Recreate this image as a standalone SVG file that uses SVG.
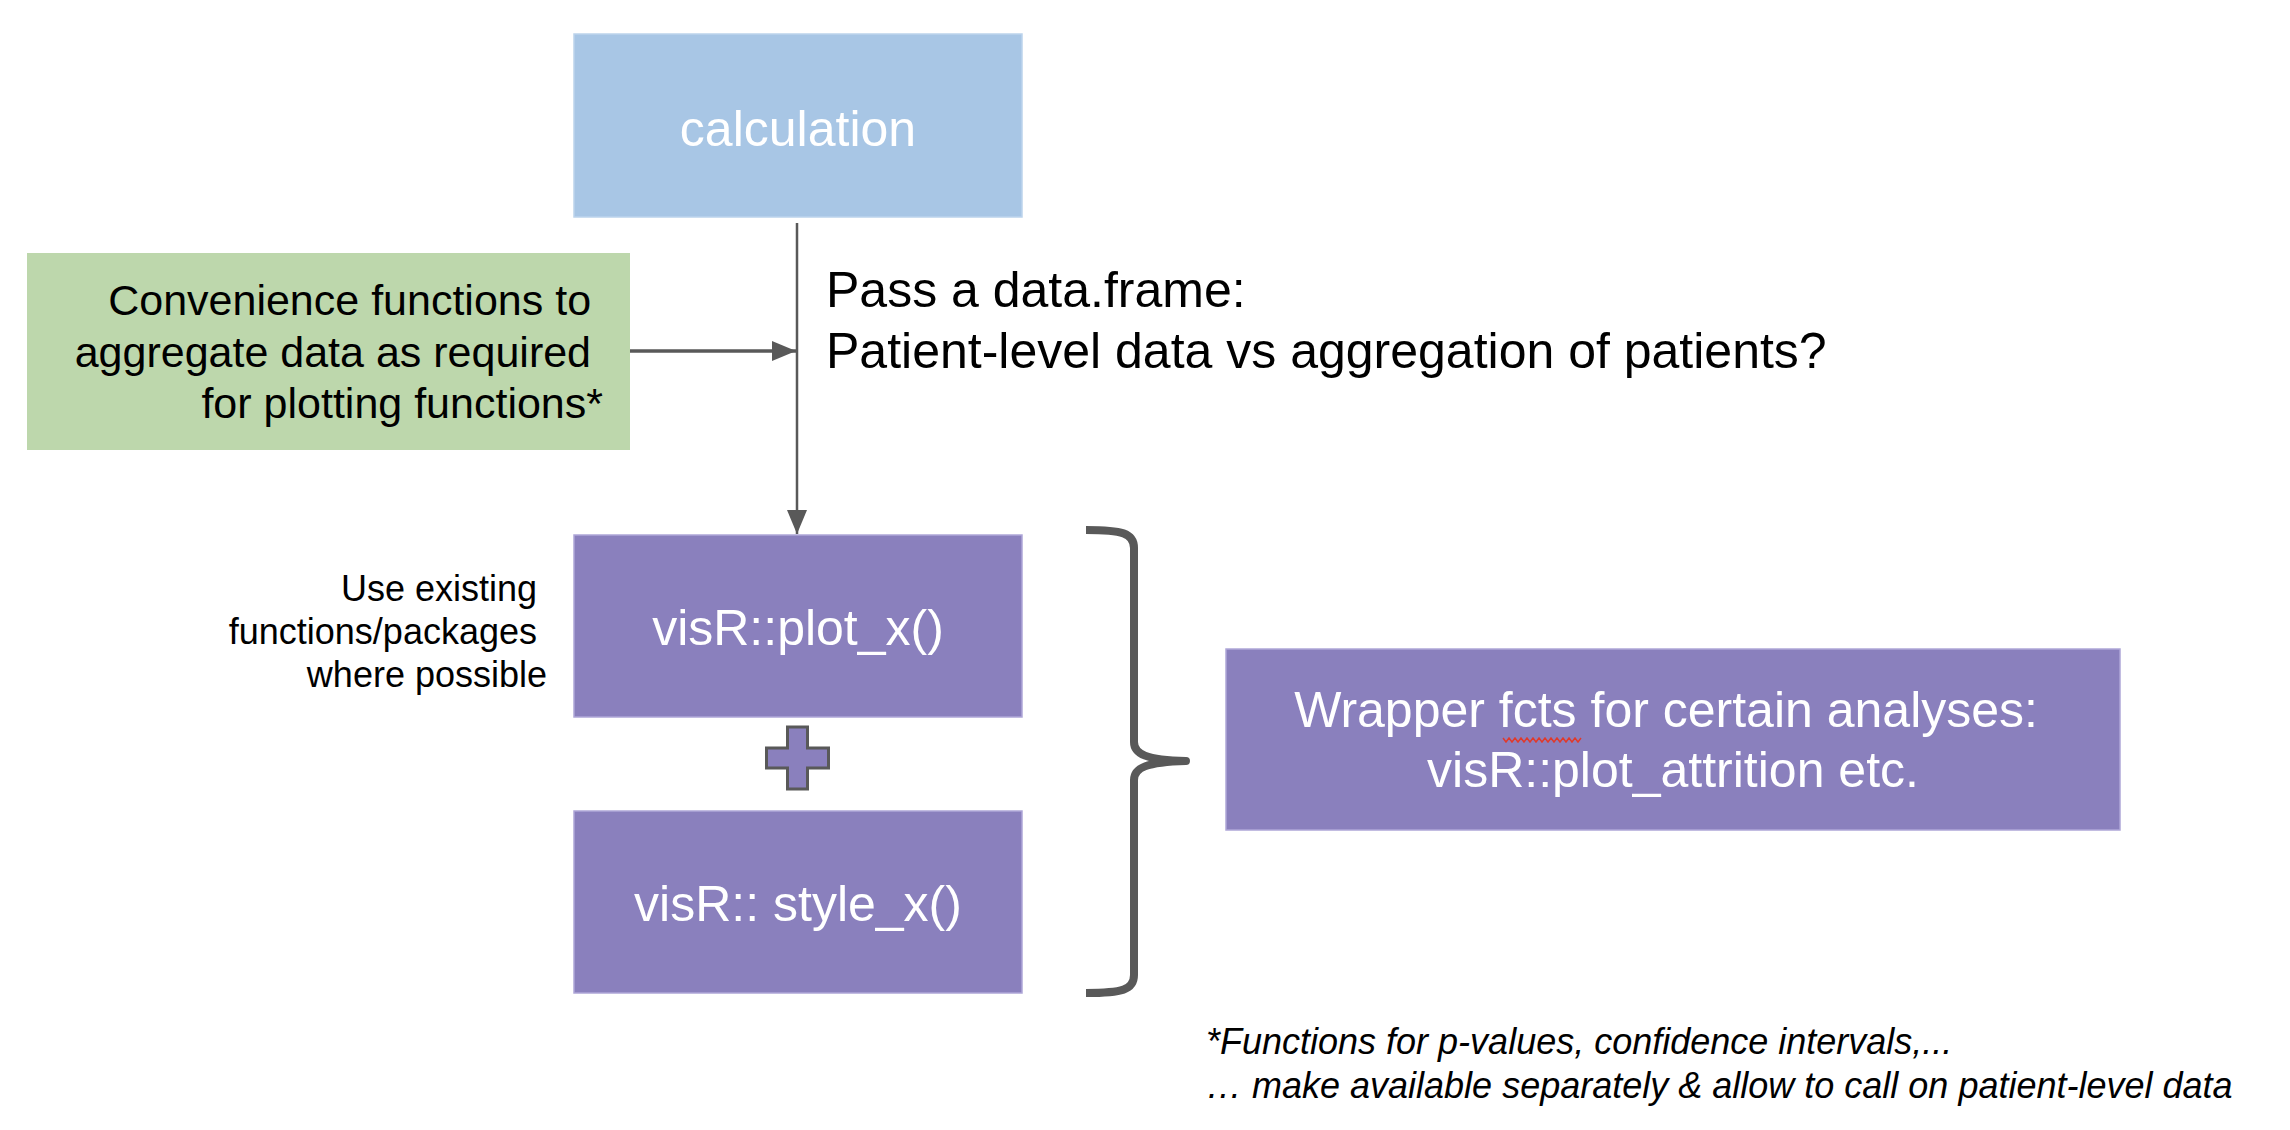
<svg xmlns="http://www.w3.org/2000/svg" width="2290" height="1130" viewBox="0 0 2290 1130">
<style>
text{font-family:"Liberation Sans",Arial,sans-serif}
.box-blue{fill:#a8c6e5;stroke:#bcd3ec;stroke-width:1.5}
.box-green{fill:#bdd7ac}
.box-purple{fill:#8a80bd;stroke:#aea6d8;stroke-width:1.5}
.lbl-w{fill:#ffffff;font-size:50px;text-anchor:middle}
.lbl-k{fill:#000000}
.conn{stroke:#595959;fill:none}
</style>
<defs>
<marker id="ah" markerWidth="24" markerHeight="20" refX="24" refY="10" orient="auto" markerUnits="userSpaceOnUse">
<path d="M0,0 L24,10 L0,20 Z" fill="#595959"/>
</marker>
</defs>
<rect width="2290" height="1130" fill="#ffffff"/>

<g id="calculation">
<rect class="box-blue" x="574" y="34" width="448" height="183"/>
<text class="lbl-w" x="798" y="145.5">calculation</text>
</g>

<g id="convenience">
<rect class="box-green" x="27" y="253" width="603" height="197"/>
<text class="lbl-k" font-size="43" text-anchor="end">
<tspan x="603" y="315">Convenience functions to</tspan>
<tspan x="603" y="366.5">aggregate data as required</tspan>
<tspan x="603" y="418">for plotting functions*</tspan>
</text>
</g>

<g id="pass-label">
<text class="lbl-k" font-size="50">
<tspan x="826" y="307">Pass a data.frame:</tspan>
<tspan x="826" y="367.5">Patient-level data vs aggregation of patients?</tspan>
</text>
</g>

<g id="plot">
<rect class="box-purple" x="574" y="535" width="448" height="182"/>
<text class="lbl-w" x="798" y="645">visR::plot_x()</text>
</g>

<g id="use-existing">
<text class="lbl-k" font-size="36" text-anchor="end">
<tspan x="547" y="600.5">Use existing</tspan>
<tspan x="547" y="643.5">functions/packages</tspan>
<tspan x="547" y="687">where possible</tspan>
</text>
</g>

<g id="plus">
<path d="M787.5,727 H807.5 V748 H828.5 V768 H807.5 V789 H787.5 V768 H766.5 V748 H787.5 Z" fill="#8a80bd" stroke="#595959" stroke-width="3" stroke-linejoin="miter"/>
</g>

<g id="style">
<rect class="box-purple" x="574" y="811" width="448" height="182"/>
<text class="lbl-w" x="798" y="921">visR:: style_x()</text>
</g>

<g id="brace">
<path d="M1086,530 C1122,530 1134,533 1134,548 L1134,742 C1134,754 1146,760 1186,761 C1146,762 1134,768 1134,780 L1134,975 C1134,990 1122,993 1086,993" fill="none" stroke="#595959" stroke-width="8" stroke-linejoin="round"/>
</g>

<g id="wrapper">
<rect class="box-purple" x="1226" y="649" width="894" height="181"/>
<text class="lbl-w">
<tspan x="1673" y="727">Wrapper fcts for certain analyses:</tspan>
<tspan x="1673" y="787">visR::plot_attrition etc.</tspan>
</text>
<polyline points="1503,738 1506,742 1509,738 1512,742 1515,738 1518,742 1521,738 1524,742 1527,738 1530,742 1533,738 1536,742 1539,738 1542,742 1545,738 1548,742 1551,738 1554,742 1557,738 1560,742 1563,738 1566,742 1569,738 1572,742 1575,738 1578,742 1581,738" fill="none" stroke="#e0392b" stroke-width="1.5"/>
</g>

<g id="footnote">
<text class="lbl-k" font-size="36" font-style="italic">
<tspan x="1206" y="1054">*Functions for p-values, confidence intervals,...</tspan>
<tspan x="1206" y="1098">… make available separately &amp; allow to call on patient-level data</tspan>
</text>
</g>

<g id="connectors">
<line class="conn" x1="797" y1="223" x2="797" y2="534" stroke-width="2.5" marker-end="url(#ah)"/>
<line class="conn" x1="630" y1="351" x2="796" y2="351" stroke-width="3.5" marker-end="url(#ah)"/>
</g>
</svg>
